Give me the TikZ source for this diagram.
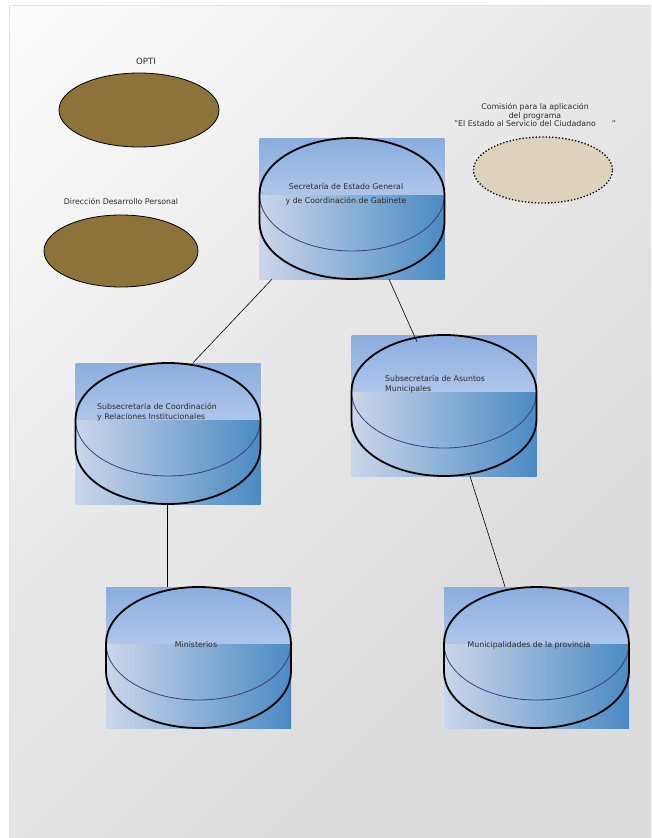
\documentclass[tikz,border=0pt]{standalone}
\usepackage{fontspec}
\setmainfont{DejaVu Sans}
\usetikzlibrary{shapes.geometric,calc}
\definecolor{bgA}{HTML}{FDFDFD}
\definecolor{bgM}{HTML}{E8E8E8}
\definecolor{bgB}{HTML}{DCDCDC}
\definecolor{bgEdge}{HTML}{E2E2E2}
\definecolor{brown}{HTML}{8D7339}
\definecolor{beige}{HTML}{DDD3BC}
\definecolor{cylA}{HTML}{8AADDF}
\definecolor{cylB}{HTML}{AFC6EA}
\definecolor{cylC}{HTML}{CBD6EA}
\definecolor{cylD}{HTML}{4A8AC3}
\definecolor{innerline}{HTML}{3F3C82}
\definecolor{txt}{HTML}{2A2A2A}
\pgfdeclarehorizontalshading{bgshade}{100bp}{color(0bp)=(bgA); color(14bp)=(bgA); color(44bp)=(bgM); color(68bp)=(bgB); color(100bp)=(bgB)}
\newcommand{\cyl}[3]{%
  \shade[top color=cylA, bottom color=cylB] ({#2-92.5},#3) rectangle ({#2+92.5},{#3+57.5});
  \shade[left color=cylC, right color=cylD] ({#2-92.5},{#3+57.5}) rectangle ({#2+92.5},{#3+141});
  \draw[innerarc] ({#2-92.5},{#3+56.5}) arc[start angle=180, end angle=0, x radius=92.5, y radius=56.5];
  \draw[outline] ({#2-92.5},{#3+56.5}) arc[start angle=180, end angle=360, x radius=92.5, y radius=56.5]
     -- ({#2+92.5},{#3+84.5}) arc[start angle=0, end angle=180, x radius=92.5, y radius=56.5] -- cycle;
  \node[box] (#1) at (#2,{#3+70.5}) {};
}
\tikzset{
  outline/.style={draw=black, line width=1.8pt, line join=round},
  innerarc/.style={draw=innerline, line width=0.8pt},
  box/.style={draw=none, minimum width=185pt, minimum height=141pt, inner sep=0pt},
  label/.style={font=\fontsize{7.8}{9}\selectfont, text=txt, inner sep=0pt},
  brownell/.style={ellipse, draw=black, line width=0.8pt, fill=brown, inner sep=0pt},
  link/.style={draw=black, line width=0.6pt}
}
\begin{document}
\begin{tikzpicture}[x=1pt, y=-1pt]
\useasboundingbox (0,0) rectangle (651,838);
\fill[white] (0,0) rectangle (651,838);
\shade[shading=bgshade, shading angle=-45] (9,5) rectangle (651,838);
\draw[bgEdge, line width=0.8pt] (9,838) -- (9,5) -- (651,5);

% brown ellipses
\node[label, font=\fontsize{8.6}{10}\selectfont] (optilbl) at (146,61) {OPTI};
\node[brownell, minimum width=160pt, minimum height=74pt] (opti) at (139,110) {};
\node[label] (ddplbl) at (121,201) {Dirección Desarrollo Personal};
\node[brownell, minimum width=154pt, minimum height=72pt] (ddp) at (121,251) {};

% comision
\node[label, align=center, font=\fontsize{7.8}{8.6}\selectfont] (comlbl) at (535,115) {Comisión para la aplicación\\del programa\\"El Estado al Servicio del Ciudadano\hspace{16pt}"};
\node[ellipse, draw=black, line width=1.3pt, dotted, fill=beige, inner sep=0pt, minimum width=139pt, minimum height=66pt] (com) at (543,170) {};

% cylinders
\cyl{sec}{352}{138}
\cyl{coord}{168}{363}
\cyl{asun}{444}{335}
\cyl{mini}{198.5}{587}
\cyl{muni}{536.5}{587}

% connectors
\draw[link] ([xshift=-80pt]sec.south) -- ([xshift=25pt]coord.north);
\draw[link] ([xshift=37pt]sec.south) -- ([xshift=-27pt,yshift=-7pt]asun.north);
\draw[link] ([xshift=-1pt]coord.south) -- ([xshift=-31.5pt]mini.north);
\draw[link] ([xshift=26pt]asun.south) -- ([xshift=-31.5pt]muni.north);

% cylinder labels
\node[label, align=center, font=\fontsize{7.8}{14}\selectfont] (seclbl) at (346,194) {Secretaría de Estado General\\y de Coordinación de Gabinete};
\node[label, align=left, anchor=west, font=\fontsize{7.8}{10}\selectfont] (coordlbl) at (97,412) {Subsecretaría de Coordinación\\y Relaciones Institucionales};
\node[label, align=left, anchor=west, font=\fontsize{7.8}{10}\selectfont] (asunlbl) at (385,384) {Subsecretaría de Asuntos\\Municipales};
\node[label] (minilbl) at (196,645) {Ministerios};
\node[label] (munilbl) at (529,645) {Municipalidades de la provincia};
\end{tikzpicture}
\end{document}
